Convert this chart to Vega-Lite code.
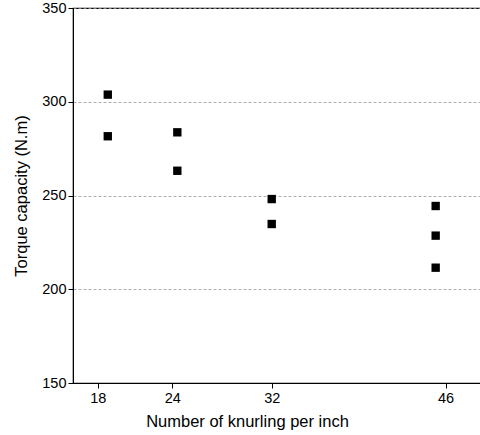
{
  "$schema": "https://vega.github.io/schema/vega-lite/v6.json",
  "autosize": {"type": "none"},
  "padding": {"left": 73, "top": 8, "right": 0, "bottom": 52},
  "width": 408,
  "height": 375,
  "background": "white",
  "config": {
    "view": {"stroke": "black", "strokeWidth": 1.2},
    "font": "Liberation Sans"
  },
  "data": {
    "values": [
      {"knurl": 18.8, "torque": 303.8},
      {"knurl": 18.8, "torque": 281.6},
      {"knurl": 24.4, "torque": 283.7},
      {"knurl": 24.4, "torque": 263.2},
      {"knurl": 32.0, "torque": 248.1},
      {"knurl": 32.0, "torque": 234.8},
      {"knurl": 45.2, "torque": 244.4},
      {"knurl": 45.2, "torque": 228.6},
      {"knurl": 45.2, "torque": 211.5}
    ]
  },
  "mark": {"type": "point", "shape": "square", "filled": true, "color": "black", "opacity": 1, "size": 70},
  "encoding": {
    "x": {
      "field": "knurl",
      "type": "quantitative",
      "scale": {"domain": [16, 48.85], "nice": false, "zero": false},
      "axis": {
        "values": [18, 24, 32, 46],
        "title": "Number of knurling per inch",
        "titleFontSize": 16.5,
        "titleFontWeight": "normal",
        "titleColor": "black",
        "titlePadding": 9,
        "titleX": 174,
        "titleAlign": "center",
        "labelFontSize": 14.5,
        "labelColor": "black",
        "labelPadding": 3,
        "tickColor": "black",
        "tickSize": 5,
        "domainColor": "black",
        "grid": false
      }
    },
    "y": {
      "field": "torque",
      "type": "quantitative",
      "scale": {"domain": [150, 350], "nice": false, "zero": false},
      "axis": {
        "values": [150, 200, 250, 300, 350],
        "title": "Torque capacity (N.m)",
        "titleFontSize": 16.5,
        "titleFontWeight": "normal",
        "titleColor": "black",
        "titlePadding": 12,
        "labelFontSize": 14.5,
        "labelColor": "black",
        "labelPadding": 2,
        "tickColor": "black",
        "tickSize": 5,
        "domainColor": "black",
        "grid": true,
        "gridColor": "#999999",
        "gridDash": [3, 2],
        "gridWidth": 0.8
      }
    }
  }
}
